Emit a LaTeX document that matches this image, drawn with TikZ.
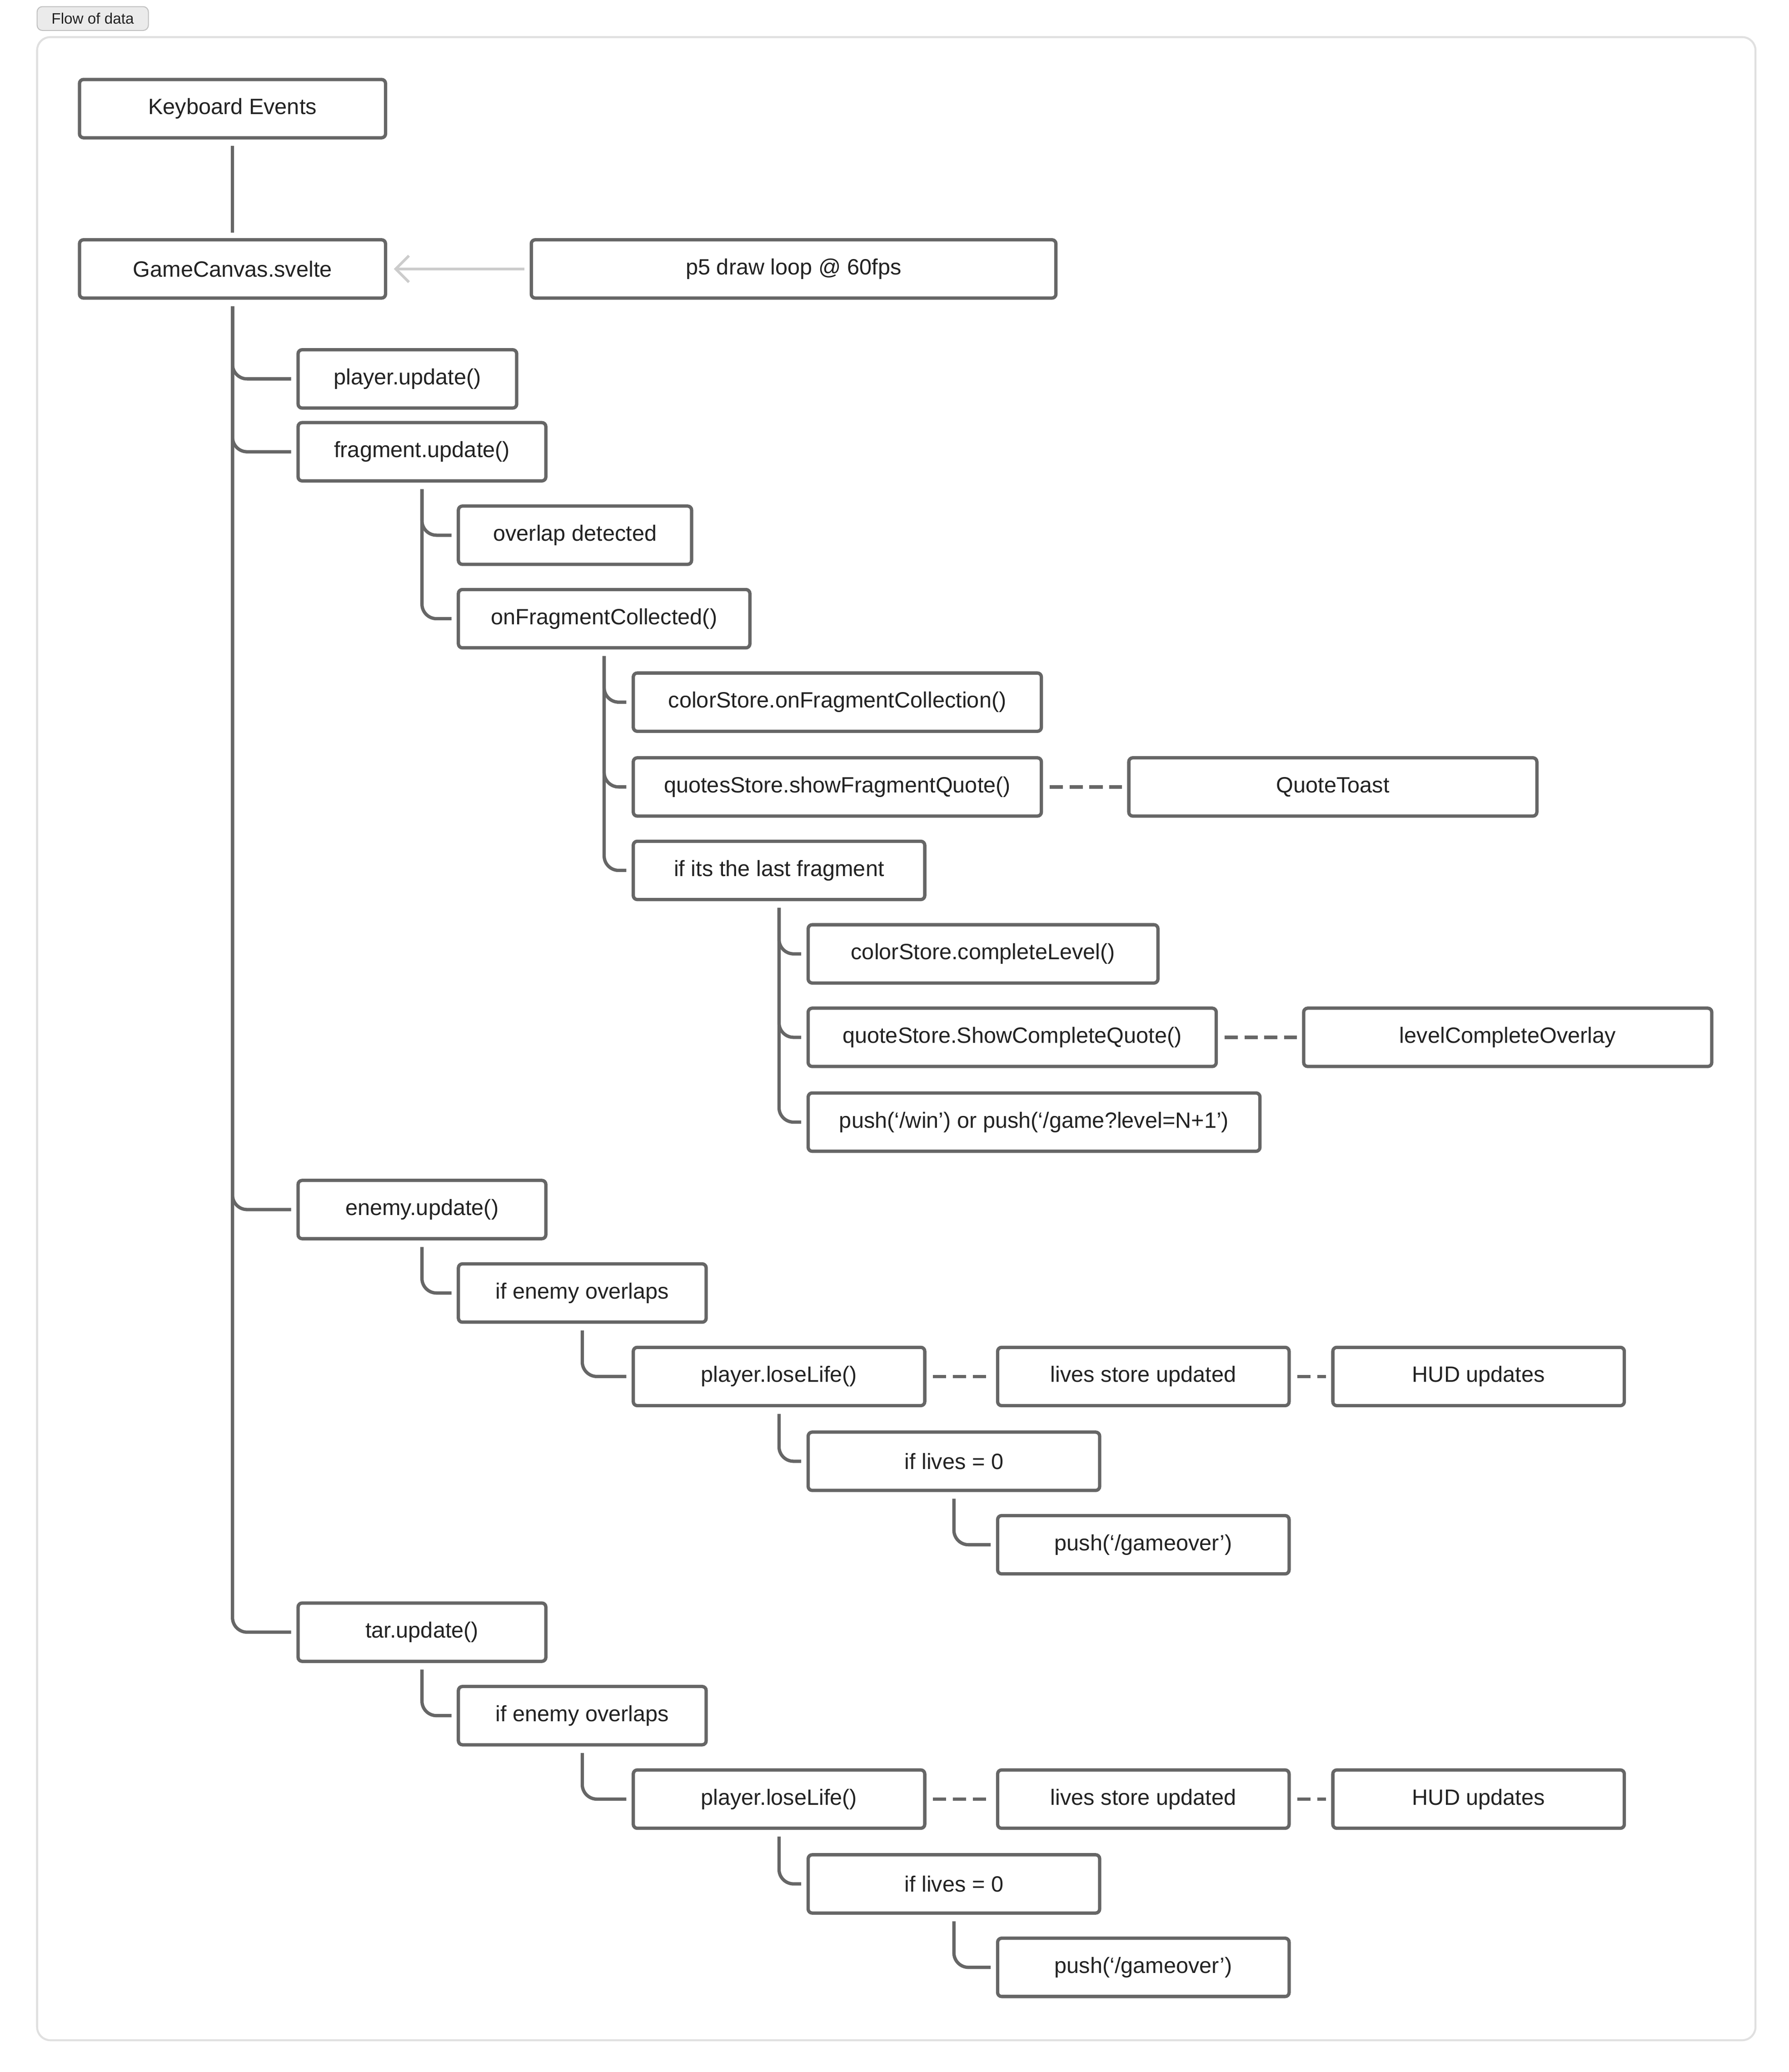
\documentclass[tikz,border=0pt]{standalone}
\usepackage{fontspec}
\setmainfont{Liberation Sans}
\usetikzlibrary{arrows.meta,calc}
\definecolor{ln}{HTML}{666666}
\definecolor{tx}{HTML}{222222}
\tikzset{
  box/.style={draw=ln,line width=0.05cm,rounded corners=0.06cm,fill=white,text=tx,font=\fontsize{9.5}{11}\selectfont,inner sep=0pt},
  tree/.style={draw=ln,line width=0.05cm,rounded corners=0.22cm},
  dashlink/.style={draw=ln,line width=0.05cm,dash pattern=on 0.2cm off 0.1cm},
}
\newcommand{\bx}[6]{\node[box,minimum width={(#4-#2)*0.02cm},minimum height={(#5-#3)*0.02cm}] (#1) at ({(#2+#4)/2},{(#3+#5)/2}) {#6};}
\newcommand{\br}[2]{\draw[tree] ([yshift=-0.1cm]#1.south) |- ([xshift=-0.08cm]#2.west);}
\begin{document}
\begin{tikzpicture}[x=0.02cm,y=-0.02cm]
\useasboundingbox (0,0) rectangle (1350.3,1564);
\fill[white] (0,0) rectangle (1350.3,1564);
\draw[draw=black!12,line width=0.03cm,rounded corners=0.2cm] (28,28) rectangle (1325,1540);
\node[draw=black!25,fill=black!8,rounded corners=0.08cm,text=tx,font=\fontsize{6.5}{8}\selectfont,minimum width=84*0.02cm,minimum height=18*0.02cm,inner sep=0pt] (title) at (70,14) {Flow of data};
\bx{kb}{60}{60}{291}{104}{Keyboard Events}
\bx{gc}{60}{181}{291}{225}{GameCanvas.svelte}
\bx{p5}{401}{181}{797}{225}{p5 draw loop @ 60fps}
\bx{pu}{225}{264}{390}{308}{player.update()}
\bx{fu}{225}{319}{412}{363}{fragment.update()}
\bx{od}{346}{382}{522}{426}{overlap detected}
\bx{ofc}{346}{445}{566}{489}{onFragmentCollected()}
\bx{cs}{478}{508}{786}{552}{colorStore.onFragmentCollection()}
\bx{qs}{478}{572}{786}{616}{quotesStore.showFragmentQuote()}
\bx{qt}{852}{572}{1160}{616}{QuoteToast}
\bx{last}{478}{635}{698}{679}{if its the last fragment}
\bx{ccl}{610}{698}{874}{742}{colorStore.completeLevel()}
\bx{scq}{610}{761}{918}{805}{quoteStore.ShowCompleteQuote()}
\bx{lco}{984}{761}{1292}{805}{levelCompleteOverlay}
\bx{pw}{610}{825}{951}{869}{push(‘/win’) or push(‘/game?level=N+1’)}
\bx{eu}{225}{891}{412}{935}{enemy.update()}
\bx{eo}{346}{954}{533}{998}{if enemy overlaps}
\bx{pl}{478}{1017}{698}{1061}{player.loseLife()}
\bx{ls}{753}{1017}{973}{1061}{lives store updated}
\bx{hud}{1006}{1017}{1226}{1061}{HUD updates}
\bx{il}{610}{1081}{830}{1125}{if lives = 0}
\bx{go}{753}{1144}{973}{1188}{push(‘/gameover’)}
\bx{tu}{225}{1210}{412}{1254}{tar.update()}
\bx{eo2}{346}{1273}{533}{1317}{if enemy overlaps}
\bx{pl2}{478}{1336}{698}{1380}{player.loseLife()}
\bx{ls2}{753}{1336}{973}{1380}{lives store updated}
\bx{hud2}{1006}{1336}{1226}{1380}{HUD updates}
\bx{il2}{610}{1400}{830}{1444}{if lives = 0}
\bx{go2}{753}{1463}{973}{1507}{push(‘/gameover’)}
\draw[draw=ln,line width=0.05cm] ([yshift=-0.1cm]kb.south) -- ([yshift=0.08cm]gc.north);
\draw[draw=black!20,line width=0.04cm,-{Straight Barb[length=0.2cm,width=0.4cm]}] ([xshift=-0.08cm]p5.west) -- ([xshift=0.1cm]gc.east);
\br{gc}{pu}\br{gc}{fu}\br{gc}{eu}\br{gc}{tu}
\br{fu}{od}\br{fu}{ofc}
\br{ofc}{cs}\br{ofc}{qs}\br{ofc}{last}
\br{last}{ccl}\br{last}{scq}\br{last}{pw}
\br{eu}{eo}\br{eo}{pl}\br{pl}{il}\br{il}{go}
\br{tu}{eo2}\br{eo2}{pl2}\br{pl2}{il2}\br{il2}{go2}
\draw[dashlink] ([xshift=0.1cm]qs.east) -- ([xshift=-0.08cm]qt.west);
\draw[dashlink] ([xshift=0.1cm]scq.east) -- ([xshift=-0.08cm]lco.west);
\draw[dashlink] ([xshift=0.1cm]pl.east) -- ([xshift=-0.08cm]ls.west);
\draw[dashlink] ([xshift=0.1cm]ls.east) -- ([xshift=-0.08cm]hud.west);
\draw[dashlink] ([xshift=0.1cm]pl2.east) -- ([xshift=-0.08cm]ls2.west);
\draw[dashlink] ([xshift=0.1cm]ls2.east) -- ([xshift=-0.08cm]hud2.west);
\end{tikzpicture}
\end{document}
